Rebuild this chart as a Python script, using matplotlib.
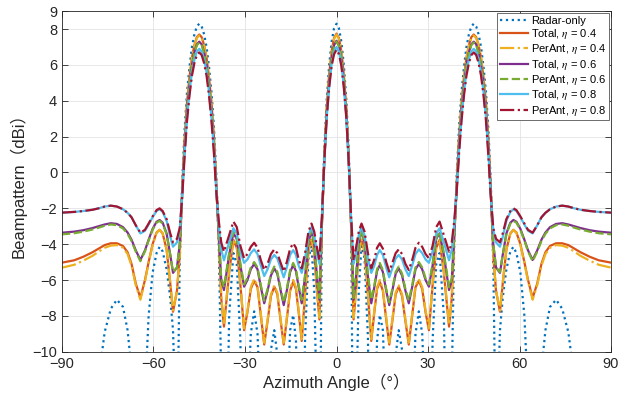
import matplotlib
matplotlib.use("Agg")
import matplotlib.pyplot as plt

# ---------------- data (azimuth in degrees, beampattern in dBi) ----------------
angle_left = [-90, -86, -83, -80, -78, -76, -74, -72,
              -70, -68.5, -67.2, -65.8, -64.3, -62.8, -61.6, -60.3, -59, -58,
              -57, -55.7, -54.5, -53.6, -52.3, -51.4, -50.6, -49.8, -49, -48.2,
              -47.4, -46.6, -45.8, -45, -44.2, -43.4, -42.6, -41.8, -41, -40.2,
              -39.4, -38.6, -37.8, -36.9, -35.2, -33.8, -32.7, -31.5, -30.3, -29.2,
              -28.1, -27, -25.9, -24.8, -23.7, -22.6, -21.5, -20.4, -19.4, -18.3,
              -17.3, -16.3, -15.2, -14.2, -13.3, -12.4, -11.4, -10.3, -9.2, -8.2,
              -7.3, -6.4, -5.6, -4.8, -4, -3.2, -2.4, -1.6, -0.8]
angle_right = [0, 0.8, 1.6, 2.4, 3.2, 4.0, 4.8, 5.6, 6.4, 7.3,
               8.2, 9.2, 10.3, 11.4, 12.4, 13.3, 14.2, 15.2, 16.3, 17.3,
               18.3, 19.4, 20.4, 21.5, 22.6, 23.7, 24.8, 25.9, 27.0, 28.1,
               29.2, 30.3, 31.5, 32.7, 33.8, 35.2, 36.9, 37.8, 38.6, 39.4,
               40.2, 41.0, 41.8, 42.6, 43.4, 44.2, 45.0, 45.8, 46.6, 47.4,
               48.2, 49.0, 49.8, 50.6, 51.4, 52.3, 53.6, 54.5, 55.7, 57.0,
               58.0, 59.0, 60.3, 61.6, 62.8, 64.3, 65.8, 67.2, 68.5, 70.0,
               72.0, 74.0, 76.0, 78.0, 80.0, 83.0, 86.0, 90.0]

radar_left = [-30, -30, -25, -16, -11.5, -8.9, -7.6, -7.1,
              -7.5, -8.8, -11.0, -16, -25, -12.5, -8.0, -5.6, -4.5, -4.15,
              -4.4, -5.4, -7.0, -8.8, -16, -5.0, -0.6, 2.4, 4.5, 5.9,
              7.0, 7.7, 8.15, 8.3, 8.15, 7.7, 7.0, 5.9, 4.5, 2.6,
              -0.2, -4.0, -11.5, -25, -8.0, -4.5, -5.1, -9.4, -25, -13.8,
              -9.0, -7.75, -9.0, -13.8, -25, -14.6, -9.9, -8.8, -10.2, -15.3,
              -25, -13.8, -8.8, -7.95, -9.4, -13.8, -22, -9.2, -4.8, -4.1,
              -6.6, -13.5, -20, -2.9, 1.3, 4.1, 6.0, 7.3, 8.05]
radar_right = [8.3, 8.05, 7.3, 6.0, 4.1, 1.3, -2.9, -20, -13.5, -6.6,
               -4.1, -4.8, -9.2, -22, -13.8, -9.4, -7.95, -8.8, -13.8, -25,
               -15.3, -10.2, -8.8, -9.9, -14.6, -25, -13.8, -9.0, -7.75, -9.0,
               -13.8, -25, -9.4, -5.1, -4.5, -8.0, -25, -11.5, -4.0, -0.2,
               2.6, 4.5, 5.9, 7.0, 7.7, 8.15, 8.3, 8.15, 7.7, 7.0,
               5.9, 4.5, 2.4, -0.6, -5.0, -16, -8.8, -7.0, -5.4, -4.4,
               -4.15, -4.5, -5.6, -8.0, -12.5, -25, -16, -11.0, -8.8, -7.5,
               -7.1, -7.6, -8.9, -11.5, -16, -25, -30, -30]

total04_left = [-5.03, -4.9, -4.7, -4.45, -4.25, -4.05, -3.95, -3.95,
                -4.1, -4.45, -5.1, -6.2, -7.0, -6.0, -5.0, -4.0, -3.35, -3.2,
                -3.4, -4.3, -6.2, -7.77, -6.6, -4.6, -1.0, 1.8, 3.9, 5.3,
                6.4, 7.1, 7.55, 7.7, 7.55, 7.1, 6.4, 5.3, 3.9, 2.0,
                -0.6, -3.6, -7.0, -8.6, -5.6, -3.77, -4.2, -6.3, -8.8, -7.8,
                -6.5, -6.04, -6.4, -8.0, -9.6, -8.3, -6.9, -6.37, -6.8, -8.3,
                -9.6, -8.2, -6.6, -6.1, -6.5, -7.8, -9.4, -6.8, -4.4, -3.75,
                -4.5, -6.6, -8.2, -3.0, 0.85, 3.6, 5.45, 6.75, 7.5]
total04_right = [7.75, 7.5, 6.75, 5.45, 3.6, 0.85, -3.0, -8.2, -6.6, -4.5,
                 -3.75, -4.4, -6.8, -9.4, -7.8, -6.5, -6.1, -6.6, -8.2, -9.6,
                 -8.3, -6.8, -6.37, -6.9, -8.3, -9.6, -8.0, -6.4, -6.04, -6.5,
                 -7.8, -8.8, -6.3, -4.2, -3.77, -5.6, -8.6, -7.0, -3.6, -0.6,
                 2.0, 3.9, 5.3, 6.4, 7.1, 7.55, 7.7, 7.55, 7.1, 6.4,
                 5.3, 3.9, 1.8, -1.0, -4.6, -6.6, -7.77, -6.2, -4.3, -3.4,
                 -3.2, -3.35, -4.0, -5.0, -6.0, -7.0, -6.2, -5.1, -4.45, -4.1,
                 -3.95, -3.95, -4.05, -4.25, -4.45, -4.7, -4.9, -5.03]

perant04_left = [-5.31, -5.15, -4.92, -4.65, -4.42, -4.2, -4.08, -4.05,
                 -4.2, -4.55, -5.2, -6.3, -7.1, -6.07, -5.05, -4.05, -3.37, -3.2,
                 -3.4, -4.3, -6.15, -7.7, -6.6, -4.6, -1.0, 1.8, 3.85, 5.25,
                 6.35, 7.05, 7.5, 7.65, 7.5, 7.05, 6.35, 5.25, 3.85, 2.0,
                 -0.6, -3.6, -6.9, -8.5, -5.5, -3.7, -4.1, -6.2, -8.7, -7.7,
                 -6.4, -5.95, -6.3, -7.9, -9.5, -8.2, -6.8, -6.3, -6.7, -8.2,
                 -9.5, -8.1, -6.5, -6.0, -6.4, -7.7, -9.3, -6.7, -4.35, -3.7,
                 -4.45, -6.5, -8.1, -3.0, 0.85, 3.6, 5.42, 6.7, 7.45]
perant04_right = [7.7, 7.45, 6.7, 5.42, 3.6, 0.85, -3.0, -8.1, -6.5, -4.45,
                  -3.7, -4.35, -6.7, -9.3, -7.7, -6.4, -6.0, -6.5, -8.1, -9.5,
                  -8.2, -6.7, -6.3, -6.8, -8.2, -9.5, -7.9, -6.3, -5.95, -6.4,
                  -7.7, -8.7, -6.2, -4.1, -3.7, -5.5, -8.5, -6.9, -3.6, -0.6,
                  2.0, 3.85, 5.25, 6.35, 7.05, 7.5, 7.65, 7.5, 7.05, 6.35,
                  5.25, 3.85, 1.8, -1.0, -4.6, -6.6, -7.7, -6.15, -4.3, -3.4,
                  -3.2, -3.37, -4.05, -5.05, -6.07, -7.1, -6.3, -5.2, -4.55, -4.2,
                  -4.05, -4.08, -4.2, -4.42, -4.65, -4.92, -5.15, -5.31]

total06_left = [-3.36, -3.3, -3.22, -3.1, -3.0, -2.9, -2.83, -2.87,
                -3.05, -3.35, -3.75, -4.35, -4.88, -4.35, -3.75, -3.15, -2.75, -2.65,
                -2.8, -3.4, -4.6, -5.6, -5.3, -4.0, -1.2, 1.4, 3.5, 4.9,
                6.0, 6.7, 7.15, 7.3, 7.15, 6.7, 6.0, 4.9, 3.5, 1.6,
                -0.9, -3.4, -6.0, -6.56, -4.6, -3.39, -3.7, -5.2, -6.37, -6.0,
                -5.4, -5.1, -5.4, -6.4, -7.3, -6.6, -5.75, -5.35, -5.65, -6.6,
                -7.4, -6.6, -5.55, -5.16, -5.5, -6.4, -7.3, -5.8, -3.9, -3.25,
                -4.0, -5.8, -7.1, -2.9, 0.7, 3.3, 5.1, 6.4, 7.1]
total06_right = [7.35, 7.1, 6.4, 5.1, 3.3, 0.7, -2.9, -7.1, -5.8, -4.0,
                 -3.25, -3.9, -5.8, -7.3, -6.4, -5.5, -5.16, -5.55, -6.6, -7.4,
                 -6.6, -5.65, -5.35, -5.75, -6.6, -7.3, -6.4, -5.4, -5.1, -5.4,
                 -6.0, -6.37, -5.2, -3.7, -3.39, -4.6, -6.56, -6.0, -3.4, -0.9,
                 1.6, 3.5, 4.9, 6.0, 6.7, 7.15, 7.3, 7.15, 6.7, 6.0,
                 4.9, 3.5, 1.4, -1.2, -4.0, -5.3, -5.6, -4.6, -3.4, -2.8,
                 -2.65, -2.75, -3.15, -3.75, -4.35, -4.88, -4.35, -3.75, -3.35, -3.05,
                 -2.87, -2.83, -2.9, -3.0, -3.1, -3.22, -3.3, -3.36]

perant06_left = [-3.45, -3.39, -3.3, -3.18, -3.08, -2.97, -2.9, -2.94,
                 -3.12, -3.42, -3.82, -4.42, -4.95, -4.4, -3.8, -3.2, -2.8, -2.7,
                 -2.85, -3.45, -4.6, -5.55, -5.3, -4.0, -1.2, 1.35, 3.45, 4.85,
                 5.95, 6.65, 7.1, 7.25, 7.1, 6.65, 5.95, 4.85, 3.45, 1.55,
                 -0.9, -3.4, -5.9, -6.4, -4.5, -3.3, -3.65, -5.1, -6.25, -5.9,
                 -5.3, -5.0, -5.3, -6.3, -7.15, -6.5, -5.65, -5.25, -5.55, -6.5,
                 -7.25, -6.5, -5.45, -5.05, -5.4, -6.3, -7.1, -5.7, -3.85, -3.2,
                 -3.95, -5.7, -7.0, -2.85, 0.7, 3.3, 5.08, 6.35, 7.05]
perant06_right = [7.3, 7.05, 6.35, 5.08, 3.3, 0.7, -2.85, -7.0, -5.7, -3.95,
                  -3.2, -3.85, -5.7, -7.1, -6.3, -5.4, -5.05, -5.45, -6.5, -7.25,
                  -6.5, -5.55, -5.25, -5.65, -6.5, -7.15, -6.3, -5.3, -5.0, -5.3,
                  -5.9, -6.25, -5.1, -3.65, -3.3, -4.5, -6.4, -5.9, -3.4, -0.9,
                  1.55, 3.45, 4.85, 5.95, 6.65, 7.1, 7.25, 7.1, 6.65, 5.95,
                  4.85, 3.45, 1.35, -1.2, -4.0, -5.3, -5.55, -4.6, -3.45, -2.85,
                  -2.7, -2.8, -3.2, -3.8, -4.4, -4.95, -4.42, -3.82, -3.42, -3.12,
                  -2.94, -2.9, -2.97, -3.08, -3.18, -3.3, -3.39, -3.45]

total08_left = [-2.24, -2.2, -2.15, -2.08, -2.0, -1.9, -1.85, -1.9,
                -2.05, -2.25, -2.5, -2.95, -3.4, -3.25, -2.9, -2.5, -2.15, -2.05,
                -2.2, -2.7, -3.6, -4.14, -3.9, -3.2, -1.3, 1.1, 3.1, 4.5,
                5.6, 6.3, 6.75, 6.9, 6.75, 6.3, 5.6, 4.5, 3.1, 1.3,
                -1.0, -2.9, -4.3, -4.9, -3.9, -3.11, -3.4, -4.4, -5.04, -4.85,
                -4.5, -4.29, -4.55, -5.2, -5.78, -5.4, -4.85, -4.6, -4.8, -5.35,
                -5.85, -5.3, -4.6, -4.33, -4.6, -5.2, -5.6, -4.8, -3.5, -3.05,
                -3.5, -4.5, -5.1, -2.6, 0.6, 3.1, 4.8, 6.05, 6.75]
total08_right = [7.0, 6.75, 6.05, 4.8, 3.1, 0.6, -2.6, -5.1, -4.5, -3.5,
                 -3.05, -3.5, -4.8, -5.6, -5.2, -4.6, -4.33, -4.6, -5.3, -5.85,
                 -5.35, -4.8, -4.6, -4.85, -5.4, -5.78, -5.2, -4.55, -4.29, -4.5,
                 -4.85, -5.04, -4.4, -3.4, -3.11, -3.9, -4.9, -4.3, -2.9, -1.0,
                 1.3, 3.1, 4.5, 5.6, 6.3, 6.75, 6.9, 6.75, 6.3, 5.6,
                 4.5, 3.1, 1.1, -1.3, -3.2, -3.9, -4.14, -3.6, -2.7, -2.2,
                 -2.05, -2.15, -2.5, -2.9, -3.25, -3.4, -2.95, -2.5, -2.25, -2.05,
                 -1.9, -1.85, -1.9, -2.0, -2.08, -2.15, -2.2, -2.24]

perant08_left = [-2.24, -2.2, -2.15, -2.08, -2.0, -1.9, -1.85, -1.9,
                 -2.05, -2.25, -2.5, -2.95, -3.36, -3.2, -2.85, -2.45, -2.1, -2.0,
                 -2.15, -2.6, -3.4, -3.9, -3.7, -3.1, -1.4, 0.9, 2.9, 4.3,
                 5.4, 6.1, 6.55, 6.7, 6.55, 6.1, 5.4, 4.3, 2.9, 1.1,
                 -1.1, -2.7, -3.9, -4.42, -3.5, -2.74, -3.05, -4.1, -4.79, -4.55,
                 -4.15, -3.92, -4.2, -4.9, -5.44, -5.1, -4.55, -4.29, -4.5, -5.05,
                 -5.53, -5.0, -4.25, -3.95, -4.2, -4.85, -5.35, -4.5, -3.3, -2.85,
                 -3.3, -4.2, -4.9, -2.5, 0.6, 3.1, 4.75, 5.95, 6.6]
perant08_right = [6.85, 6.6, 5.95, 4.75, 3.1, 0.6, -2.5, -4.9, -4.2, -3.3,
                  -2.85, -3.3, -4.5, -5.35, -4.85, -4.2, -3.95, -4.25, -5.0, -5.53,
                  -5.05, -4.5, -4.29, -4.55, -5.1, -5.44, -4.9, -4.2, -3.92, -4.15,
                  -4.55, -4.79, -4.1, -3.05, -2.74, -3.5, -4.42, -3.9, -2.7, -1.1,
                  1.1, 2.9, 4.3, 5.4, 6.1, 6.55, 6.7, 6.55, 6.1, 5.4,
                  4.3, 2.9, 0.9, -1.4, -3.1, -3.7, -3.9, -3.4, -2.6, -2.15,
                  -2.0, -2.1, -2.45, -2.85, -3.2, -3.36, -2.95, -2.5, -2.25, -2.05,
                  -1.9, -1.85, -1.9, -2.0, -2.08, -2.15, -2.2, -2.24]

x_ticks = [-90, -60, -30, 0, 30, 60, 90]
y_ticks = [-10, -8, -6, -4, -2, 0, 2, 4, 6, 8, 9]

# ---------------- plotting ----------------
angles = angle_left + angle_right
series = [
    (radar_left + radar_right, "Radar-only", "#0072BD", ":"),
    (total04_left + total04_right, r"Total, $\eta$ = 0.4", "#D95319", "-"),
    (perant04_left + perant04_right, r"PerAnt, $\eta$ = 0.4", "#EDB120", "-."),
    (total06_left + total06_right, r"Total, $\eta$ = 0.6", "#7E2F8E", "-"),
    (perant06_left + perant06_right, r"PerAnt, $\eta$ = 0.6", "#77AC30", "--"),
    (total08_left + total08_right, r"Total, $\eta$ = 0.8", "#4DBEEE", "-"),
    (perant08_left + perant08_right, r"PerAnt, $\eta$ = 0.8", "#A2142F", "-."),
]

plt.rcParams['font.family'] = ['Liberation Sans', 'Noto Sans CJK SC']
plt.rcParams['mathtext.fontset'] = 'stix'

fig = plt.figure(figsize=(6.34, 3.94), dpi=100)
ax = fig.add_axes([62 / 634, 1 - 351.7 / 394, (611 - 62) / 634, (351.7 - 11.2) / 394])

for vals, lab, col, ls in series:
    ax.plot(angles, vals, ls, color=col, lw=1.6, label=lab)

ax.set_xlim(-90, 90)
ax.set_ylim(-10, 9)
ax.set_xticks(x_ticks)
ax.set_yticks(y_ticks)
ax.grid(True, color='#e3e3e3', lw=0.6)
ax.set_axisbelow(True)
ax.tick_params(direction='in', top=True, right=True, length=4, width=0.6,
               colors='#262626', labelsize=10.5)
for sp in ax.spines.values():
    sp.set_color('#262626')
    sp.set_linewidth(0.6)

ax.set_xlabel('Azimuth Angle（°）', fontsize=12, color='#262626', labelpad=2)
ax.set_ylabel('Beampattern（dBi）', fontsize=12, color='#262626', labelpad=4)

leg = ax.legend(loc='upper right', fontsize=8, handlelength=2.5, handletextpad=0.3,
                labelspacing=0.12, borderpad=0.25, borderaxespad=0.15, fancybox=False,
                framealpha=1, edgecolor='#555555')
leg.get_frame().set_linewidth(0.6)

fig.savefig('out.png', dpi=100)
